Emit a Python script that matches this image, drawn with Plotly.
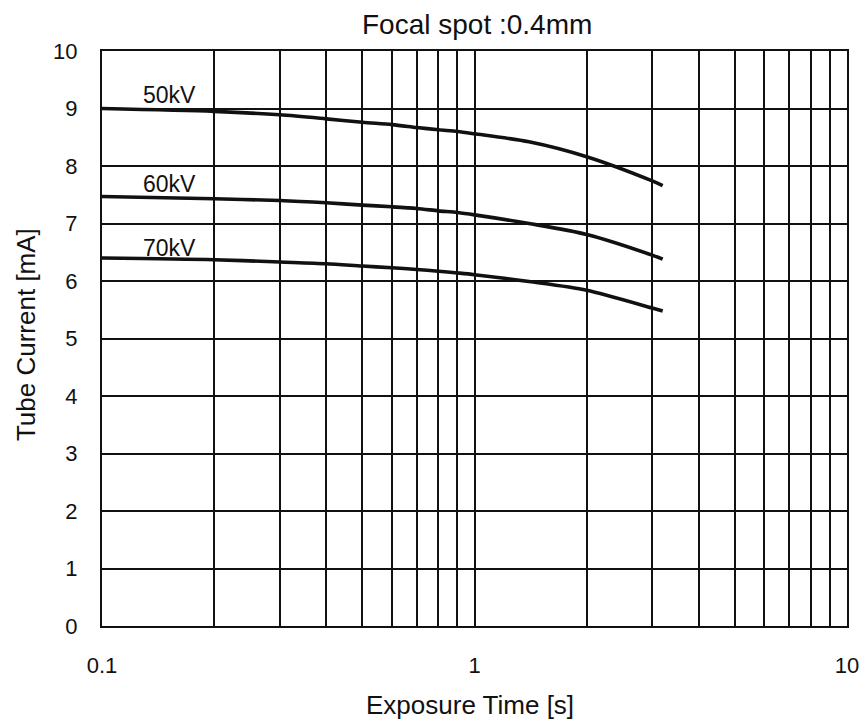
import math
import plotly.graph_objects as go

# Exposure time points [s]
time_s = [0.1, 0.2, 0.3, 0.4, 0.5, 0.6, 0.7, 0.8, 0.9, 1.0, 1.4, 2.0, 3.0, 3.2]

# Tube current [mA] per tube voltage
current_50kv = [9.00, 8.95, 8.89, 8.82, 8.76, 8.72, 8.67, 8.63, 8.60, 8.56, 8.42, 8.16, 7.74, 7.66]
current_60kv = [7.47, 7.43, 7.40, 7.36, 7.32, 7.29, 7.26, 7.22, 7.19, 7.15, 7.00, 6.81, 6.45, 6.38]
current_70kv = [6.40, 6.37, 6.33, 6.30, 6.26, 6.23, 6.20, 6.17, 6.14, 6.11, 5.99, 5.84, 5.53, 5.48]

series_names = ["50kV", "60kV", "70kV"]
series_values = [current_50kv, current_60kv, current_70kv]

# Curve label anchors (x in s, y in mA)
label_x = [0.152, 0.152, 0.152]
label_y = [9.23, 7.69, 6.57]

x_major = [0.1, 1, 10]
x_major_text = ["0.1", "1", "10"]
x_minor = [0.2, 0.3, 0.4, 0.5, 0.6, 0.7, 0.8, 0.9, 2, 3, 4, 5, 6, 7, 8, 9]
y_ticks = list(range(0, 11))

FONT = "Liberation Sans, Arial, sans-serif"
INK = "#111111"

fig = go.Figure()

for name, vals in zip(series_names, series_values):
    fig.add_trace(go.Scatter(
        x=time_s, y=vals, mode="lines", name=name,
        line=dict(color=INK, width=3.6, shape="spline", smoothing=0.8),
        showlegend=False, hoverinfo="x+y+name",
    ))

# Curve labels (log axis: annotation x is given in log10 units)
for name, lx, ly in zip(series_names, label_x, label_y):
    fig.add_annotation(x=math.log10(lx), y=ly, xref="x", yref="y", text=name,
                       showarrow=False, font=dict(family=FONT, size=23, color=INK))

# Chart title and axis titles
fig.add_annotation(text="Focal spot :0.4mm", xref="paper", yref="paper",
                   x=0.503, y=1, yshift=27, xanchor="center", yanchor="middle",
                   showarrow=False, font=dict(family=FONT, size=28, color=INK))
fig.add_annotation(text="Exposure Time [s]", xref="paper", yref="paper",
                   x=0.494, y=0, yshift=-79, xanchor="center", yanchor="middle",
                   showarrow=False, font=dict(family=FONT, size=26, color=INK))
fig.add_annotation(text="Tube Current [mA]", xref="paper", yref="paper",
                   x=0, xshift=-76, y=0.506, xanchor="center", yanchor="middle",
                   textangle=-90, showarrow=False,
                   font=dict(family=FONT, size=26, color=INK))

fig.update_layout(
    width=859, height=724,
    margin=dict(l=102, r=12, t=51, b=98),
    paper_bgcolor="white", plot_bgcolor="white",
    font=dict(family=FONT, color=INK),
)

fig.update_xaxes(
    type="log", range=[-1, 1], automargin=False,
    tickmode="array", tickvals=x_major, ticktext=x_major_text,
    tickfont=dict(family=FONT, size=22, color=INK),
    ticklabelstandoff=18, ticklabeloverflow="allow",
    showgrid=True, gridcolor=INK, gridwidth=1.8,
    minor=dict(tickmode="array", tickvals=x_minor, showgrid=True,
               gridcolor=INK, gridwidth=1.8),
    showline=True, linecolor=INK, linewidth=2.2, mirror=True,
    zeroline=False,
)

fig.update_yaxes(
    range=[0, 10], automargin=False,
    tickmode="array", tickvals=y_ticks,
    tickfont=dict(family=FONT, size=22, color=INK),
    ticklabelstandoff=18, ticklabeloverflow="allow",
    showgrid=True, gridcolor=INK, gridwidth=1.8,
    showline=True, linecolor=INK, linewidth=2.2, mirror=True,
    zeroline=False,
)

fig.write_html("out.html")
